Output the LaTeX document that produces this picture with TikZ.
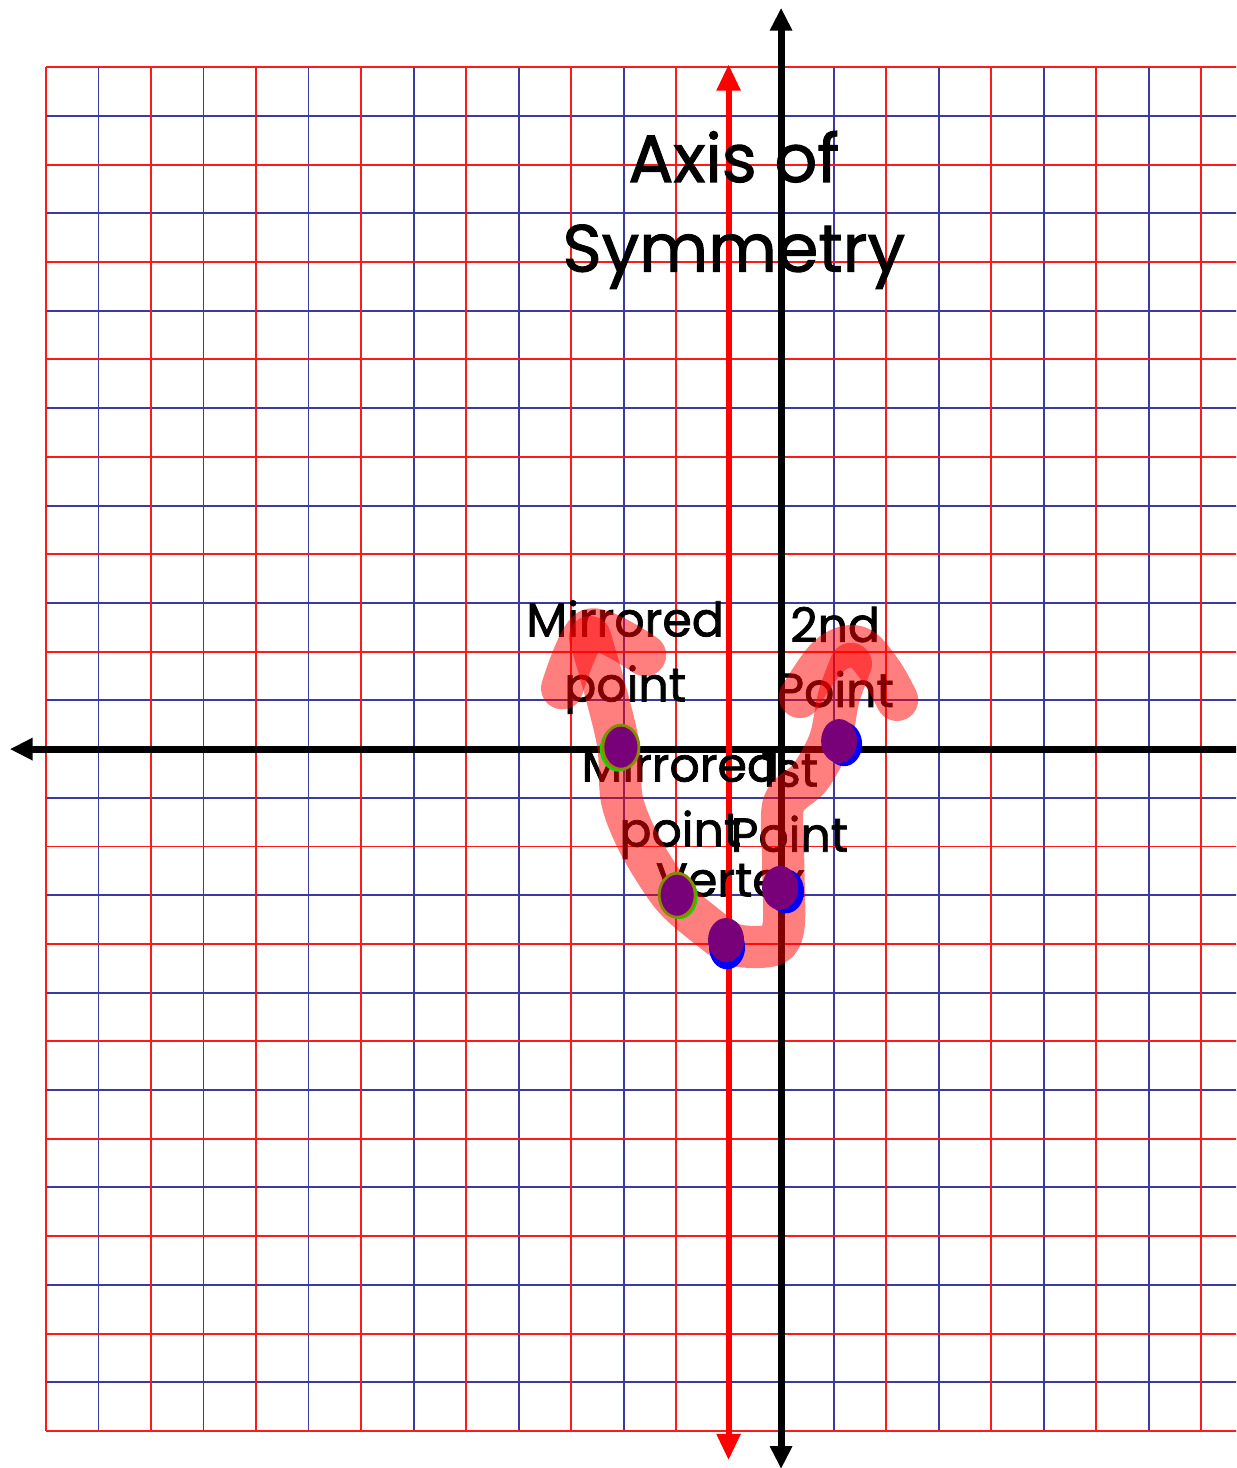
\documentclass[tikz,border=0pt]{standalone}
\usepackage{fontspec}
\setmainfont{Poppins}[FakeBold=1.5]
\usepackage{xcolor}
\usetikzlibrary{arrows.meta}
\definecolor{gridred}{HTML}{FF1A1A}
\definecolor{gridblue}{HTML}{3A3AA0}
\definecolor{dotpurple}{HTML}{780078}
\definecolor{dotblue}{HTML}{0000FF}
\definecolor{rimolive}{HTML}{8A8A00}
\definecolor{rimgreen}{HTML}{00E000}
\tikzset{
  redline/.style={draw=gridred, line width=1.1pt},
  blueline/.style={draw=gridblue, line width=1.1pt},
  axisline/.style={draw=black, line width=4pt,
                   {Triangle[length=13pt, width=12pt]}-{Triangle[length=13pt, width=12pt]}},
  symline/.style={draw=red, line width=3.4pt,
                  {Triangle[length=15pt, width=13pt]}-{Triangle[length=15pt, width=13pt]}},
  marker/.style={draw=red, draw opacity=0.5, line width=24pt, line cap=round, line join=round},
  dotfill/.style={fill=dotpurple},
  dotback/.style={fill=dotblue},
  mirdot/.style={fill=dotpurple, draw=rimolive, line width=1.6pt},
  lbl/.style={font=\fontsize{27}{37}\selectfont, align=center, inner sep=0pt},
  biglbl/.style={font=\fontsize{38}{51}\selectfont, align=center, inner sep=0pt},
}
\begin{document}
\begin{tikzpicture}[x=1.05cm, y=0.974cm]
\clip (-14.876,-14.76) rectangle (8.667,15.38);
\fill[white] (-14.876,-14.76) rectangle (8.667,15.38);

% grid
\foreach \i in {-13,-11,...,7} \draw[blueline] (\i,-14) -- (\i,14);
\foreach \j in {-13,-11,...,13} \draw[blueline] (-14,\j) -- (9,\j);
\foreach \i in {-14,-12,...,8} \draw[redline] (\i,-14) -- (\i,14);
\foreach \j in {-14,-12,...,14} \draw[redline] (-14,\j) -- (9,\j);

% axes
\coordinate (xl) at (-14.69,0);
\coordinate (xr) at (9.5,0);
\coordinate (yb) at (0,-14.78);
\coordinate (yt) at (0,15.22);
\draw[axisline] (xl) -- (xr);
\draw[axisline] (yb) -- (yt);
\coordinate (sb) at (-1,-14.6);
\coordinate (st) at (-1,14.06);
\draw[symline] (sb) -- (st);

% labels
\node[biglbl] (axislbl) at (-0.9,11.07) {Axis of\\Symmetry};
\node[lbl] (mirtop) at (-2.97,1.89) {Mirrored\\point};
\node[lbl] (second) at (1.03,1.89) {2nd\\Point};
\node[lbl] (mirlow) at (-1.92,-1.09) {Mirrored\\point};
\node[lbl] (first) at (0.16,-1.09) {1st\\Point};
\node[lbl] (vertex) at (-0.97,-2.69) {Vertex};

% hand-drawn curve
\draw[marker] plot[smooth, tension=0.5] coordinates {(-4.17,1.25) (-3.64,2.45) (-2.59,1.93)};
\draw[marker] plot[smooth, tension=0.5] coordinates {
  (-3.64,2.3) (-3.35,1.21) (-3.10,0.08) (-3.03,-1.05) (-2.69,-1.97)
  (-2.08,-3.0) (-1.45,-3.61) (-0.88,-4.02) (-0.15,-4.02) (0.05,-3.6)
  (0.04,-2.3) (0.05,-1.12) (0.55,-0.58) (0.93,0.18) (1.10,1.07) (1.33,1.75)};
\draw[marker] plot[smooth, tension=0.6] coordinates {(0.36,1.07) (0.9,1.9) (1.45,2.1) (1.9,1.6) (2.21,1.01)};

% points
\fill[dotback] (-1.029,-4.07) ellipse [x radius=0.36cm, y radius=0.44cm];
\fill[dotfill] (-1.048,-3.92) ellipse [x radius=0.36cm, y radius=0.44cm];
\fill[dotback] (0.095,-2.92) ellipse [x radius=0.36cm, y radius=0.44cm];
\fill[dotfill] (-0.019,-2.85) ellipse [x radius=0.36cm, y radius=0.44cm];
\fill[dotback] (1.2,0.10) ellipse [x radius=0.36cm, y radius=0.44cm];
\fill[dotfill] (1.105,0.164) ellipse [x radius=0.36cm, y radius=0.44cm];
\fill[rimgreen] (-3.1,0.0) ellipse [x radius=0.37cm, y radius=0.45cm];
\filldraw[mirdot] (-3.05,0.04) ellipse [x radius=0.36cm, y radius=0.44cm];
\fill[rimgreen] (-1.94,-3.03) ellipse [x radius=0.37cm, y radius=0.45cm];
\filldraw[mirdot] (-1.98,-3.00) ellipse [x radius=0.36cm, y radius=0.44cm];
\end{tikzpicture}
\end{document}
